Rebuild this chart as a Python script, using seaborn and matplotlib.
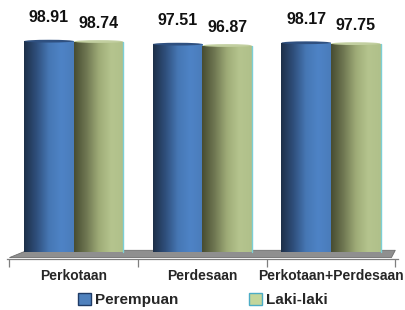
import numpy as np
import pandas as pd
import seaborn as sns
import matplotlib.pyplot as plt
from matplotlib.colors import LinearSegmentedColormap
from matplotlib.patches import Patch, Ellipse, Polygon

categories = ["Perkotaan", "Perdesaan", "Perkotaan+Perdesaan"]
series = ["Perempuan", "Laki-laki"]
perempuan = [98.91, 97.51, 98.17]
laki_laki = [98.74, 96.87, 97.75]

df = pd.DataFrame({
    "wilayah": categories * 2,
    "jenis": [series[0]] * 3 + [series[1]] * 3,
    "nilai": perempuan + laki_laki,
})

sns.set_style("white")
plt.rcParams['font.family'] = ['Liberation Sans', 'DejaVu Sans']

fig = plt.figure(figsize=(4.06, 3.10), dpi=100)
ax = fig.add_axes([0.017, 0.165, 0.963, 0.82])

base = {"Perempuan": "#4f81bd", "Laki-laki": "#b3c48c"}
sns.barplot(data=df, x="wilayah", y="nilai", hue="jenis", hue_order=series,
            palette=base, width=0.77, legend=False, ax=ax, zorder=2)

# cylinder shading
cmaps = [
    LinearSegmentedColormap.from_list("b", ["#1d2f48", "#2f4f7c", "#4677b4", "#4e83c6", "#4a7cba"]),
    LinearSegmentedColormap.from_list("g", ["#474c31", "#6f7752", "#9eab77", "#b5c48e", "#b0c08a"]),
]
tops = ["#2f5080", "#c2cfa0"]
label_off = [11.0, 8.5]
grad = np.linspace(0, 1, 256).reshape(1, -1)
for i, cont in enumerate(ax.containers):
    for bar in cont:
        x0, w, h = bar.get_x(), bar.get_width(), bar.get_height()
        bar.set_edgecolor("none")
        im = ax.imshow(grad, cmap=cmaps[i], extent=(x0, x0 + w, 0, h),
                       aspect="auto", zorder=3)
        im.set_clip_path(bar)
        ax.add_patch(Ellipse((x0 + w / 2, h), w, 1.3, facecolor=tops[i],
                             edgecolor="none", zorder=4))
        if i == 1:
            ax.plot([x0 + w, x0 + w], [0, h], color="#7ccfd6", lw=1.0, zorder=4)
        ax.text(x0 + w / 2, h + label_off[i], f"{h:.2f}", ha="center", va="center",
                fontsize=11.5, fontweight="bold", color="#111111")

# floor
floor = Polygon([(-0.5, -2.4), (2.47, -2.4), (2.5, 1.0), (-0.36, 1.0)],
                closed=True, facecolor="#8f8f8f", edgecolor="#6e6e6e", lw=0.6, zorder=1)
ax.add_patch(floor)

ax.set_xlim(-0.52, 2.52)
ax.set_ylim(-3, 116)
ax.set_xlabel("")
ax.set_ylabel("")
ax.set_yticks([])
ax.set_xticks([0, 1, 2])
ax.set_xticklabels(categories, fontsize=10, fontweight="bold")
ax.set_xticks([-0.5, 0.5, 1.5, 2.5], minor=True)
ax.tick_params(axis="x", which="major", length=0, pad=7)
ax.tick_params(axis="x", which="minor", length=6, width=0.9, color="#7f7f7f", bottom=True)
for s in ["left", "right", "top"]:
    ax.spines[s].set_visible(False)
ax.spines["bottom"].set_color("#7f7f7f")
ax.spines["bottom"].set_linewidth(0.9)

handles = [Patch(facecolor="#4f81bd", edgecolor="#1f3b66", label="Perempuan"),
           Patch(facecolor="#c3d69b", edgecolor="#4bacc6", label="Laki-laki")]
fig.legend(handles=handles, loc="center", bbox_to_anchor=(0.5, 0.033), ncol=2,
           frameon=False, prop={"size": 11, "weight": "bold"},
           handlelength=0.85, handleheight=0.85, handletextpad=0.25, columnspacing=4.6)

fig.savefig("out.png", dpi=100)
